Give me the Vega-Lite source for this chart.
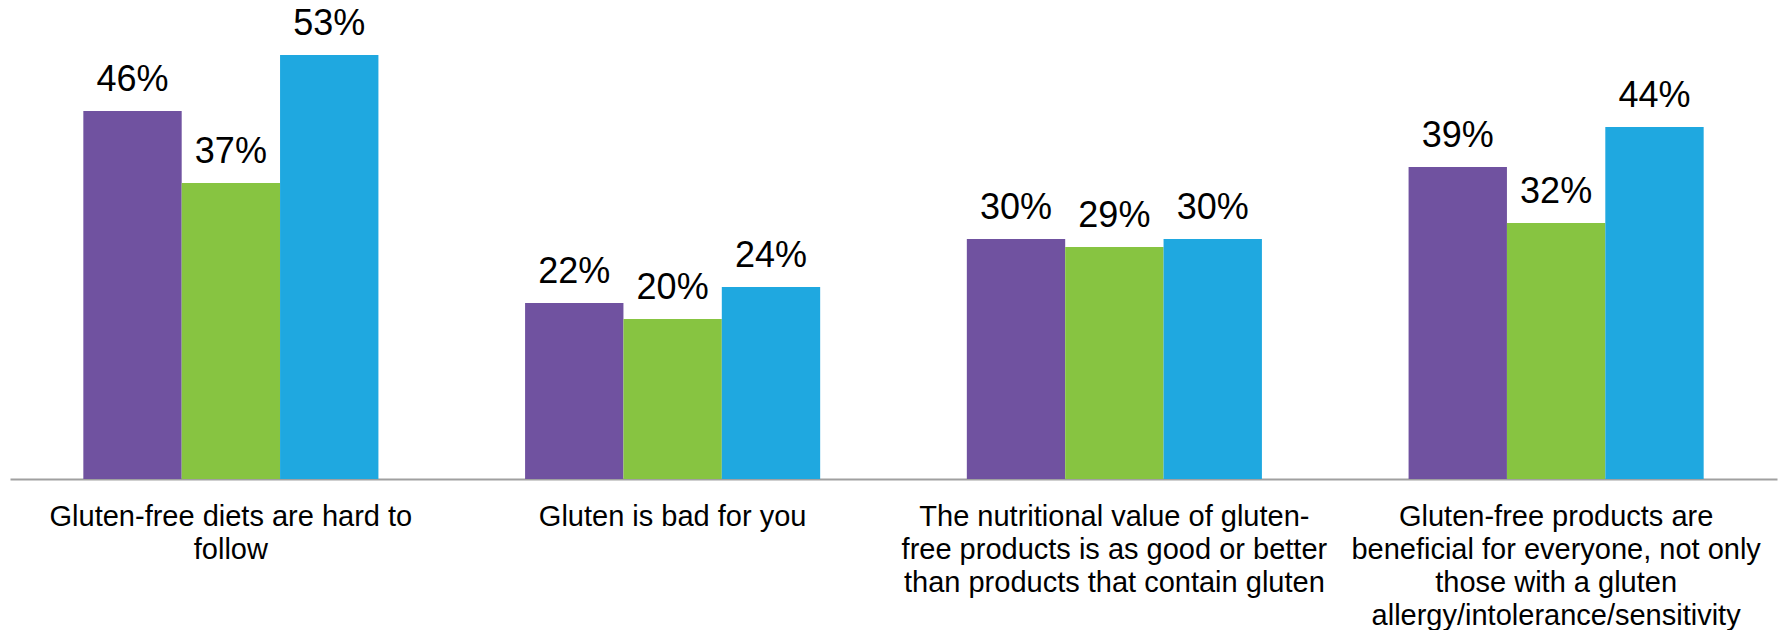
{
  "$schema": "https://vega.github.io/schema/vega-lite/v6.json",
  "autosize": {"type": "none"},
  "width": 1767,
  "height": 440,
  "padding": {"left": 10, "top": 39, "right": 6, "bottom": 151},
  "background": "white",
  "config": {"view": {"stroke": null}, "font": "Liberation Sans"},
  "data": {
    "values": [
      {"statement": "Gluten-free diets are hard to|follow", "series": "Series 1", "value": 0.46},
      {"statement": "Gluten-free diets are hard to|follow", "series": "Series 2", "value": 0.37},
      {"statement": "Gluten-free diets are hard to|follow", "series": "Series 3", "value": 0.53},
      {"statement": "Gluten is bad for you", "series": "Series 1", "value": 0.22},
      {"statement": "Gluten is bad for you", "series": "Series 2", "value": 0.20},
      {"statement": "Gluten is bad for you", "series": "Series 3", "value": 0.24},
      {"statement": "The nutritional value of gluten-|free products is as good or better|than products that contain gluten", "series": "Series 1", "value": 0.30},
      {"statement": "The nutritional value of gluten-|free products is as good or better|than products that contain gluten", "series": "Series 2", "value": 0.29},
      {"statement": "The nutritional value of gluten-|free products is as good or better|than products that contain gluten", "series": "Series 3", "value": 0.30},
      {"statement": "Gluten-free products are|beneficial for everyone, not only|those with a gluten|allergy/intolerance/sensitivity", "series": "Series 1", "value": 0.39},
      {"statement": "Gluten-free products are|beneficial for everyone, not only|those with a gluten|allergy/intolerance/sensitivity", "series": "Series 2", "value": 0.32},
      {"statement": "Gluten-free products are|beneficial for everyone, not only|those with a gluten|allergy/intolerance/sensitivity", "series": "Series 3", "value": 0.44}
    ]
  },
  "encoding": {
    "x": {
      "field": "statement",
      "type": "nominal",
      "sort": null,
      "scale": {"paddingInner": 0.332, "paddingOuter": 0.166},
      "axis": {
        "title": null,
        "labelAngle": 0,
        "labelExpr": "split(datum.label, '|')",
        "labelFontSize": 29,
        "labelLineHeight": 33,
        "labelColor": "#000000",
        "labelLimit": 0,
        "labelOverlap": false,
        "labelPadding": 23,
        "ticks": false,
        "domainColor": "#a0a0a0",
        "domainWidth": 2,
        "labelBaseline": "top"
      }
    },
    "xOffset": {"field": "series", "type": "nominal", "scale": {"paddingInner": 0, "paddingOuter": 0}},
    "y": {
      "field": "value",
      "type": "quantitative",
      "scale": {"domain": [0, 0.55], "nice": false, "zero": true},
      "axis": null
    }
  },
  "layer": [
    {
      "mark": {"type": "bar"},
      "encoding": {
        "color": {
          "field": "series",
          "type": "nominal",
          "scale": {"domain": ["Series 1", "Series 2", "Series 3"], "range": ["#7052A0", "#87C441", "#1FA8E0"]},
          "legend": null
        }
      }
    },
    {
      "mark": {"type": "text", "fontSize": 36, "dy": -20, "baseline": "alphabetic", "color": "#000000"},
      "encoding": {
        "text": {"field": "value", "type": "quantitative", "format": ".0%"}
      }
    }
  ]
}
